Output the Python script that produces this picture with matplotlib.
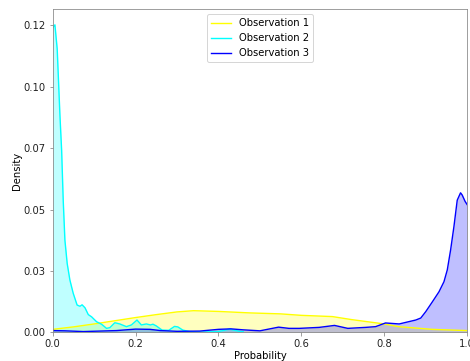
import matplotlib
matplotlib.use("Agg")
import matplotlib.pyplot as plt
import numpy as np
from matplotlib.ticker import FormatStrFormatter

# Observation 1 (yellow) - broad hump around 0.35
obs1_x = [0.00, 0.05, 0.10, 0.15, 0.20, 0.25, 0.30, 0.34, 0.40, 0.475,
          0.55, 0.60, 0.675, 0.72, 0.80, 0.835, 0.915, 1.00]
obs1_y = [0.0012, 0.0022, 0.0034, 0.0047, 0.0060, 0.0072, 0.0083, 0.0088, 0.0085, 0.0079,
          0.0075, 0.0069, 0.0064, 0.0052, 0.0034, 0.0023, 0.0012, 0.0007]

# Observation 2 (cyan) - sharp peak near zero
obs2_x = [0.0, 0.0055, 0.011, 0.0176, 0.0217, 0.0255, 0.0296, 0.0351, 0.0416, 0.0496, 0.059,
          0.066, 0.071, 0.078, 0.082, 0.086, 0.094, 0.106, 0.118, 0.130, 0.138,
          0.150, 0.162, 0.178, 0.190, 0.2035, 0.214, 0.226, 0.236, 0.242, 0.250,
          0.264, 0.280, 0.294, 0.302, 0.314, 0.330, 0.360, 0.400, 0.427, 0.450, 0.460]
obs2_y = [0.1240, 0.1252, 0.1154, 0.0883, 0.0741, 0.0538, 0.0375, 0.0280, 0.0213, 0.0159, 0.0111,
          0.0106, 0.0112, 0.0100, 0.0086, 0.0072, 0.0063, 0.0043, 0.0033, 0.0016, 0.0019,
          0.0039, 0.0034, 0.0023, 0.0030, 0.0050, 0.0030, 0.0034, 0.0030, 0.0033, 0.0026,
          0.0009, 0.0008, 0.0024, 0.0022, 0.0009, 0.0003, 0.0001, 0.0003, 0.0013, 0.0004, 0.0002]

# Observation 3 (blue) - peak near one
obs3_x = [0.00, 0.03, 0.074, 0.154, 0.20, 0.235, 0.26, 0.30, 0.355, 0.40,
          0.43, 0.46, 0.50, 0.545, 0.57, 0.595, 0.643, 0.68, 0.712, 0.755,
          0.779, 0.803, 0.836, 0.876, 0.888, 0.90, 0.916, 0.932, 0.944, 0.952,
          0.960, 0.968, 0.976, 0.984, 0.988, 0.995, 1.00]
obs3_y = [0.0007, 0.0006, 0.0003, 0.0007, 0.0013, 0.0012, 0.0007, 0.0004, 0.0005, 0.0012,
          0.0014, 0.0010, 0.0006, 0.0021, 0.0016, 0.0016, 0.0020, 0.0028, 0.0016, 0.0020,
          0.0023, 0.0038, 0.0034, 0.0050, 0.0058, 0.0084, 0.0124, 0.0165, 0.0206, 0.0254,
          0.0335, 0.0430, 0.0538, 0.0568, 0.0559, 0.0533, 0.0520]

series = [
    ("Observation 1", obs1_x, obs1_y, "yellow"),
    ("Observation 2", obs2_x, obs2_y, "cyan"),
    ("Observation 3", obs3_x, obs3_y, "blue"),
]

fig = plt.figure(figsize=(470 / 72, 361 / 72), dpi=72)
ax = fig.add_axes([0.112, 0.0795, 0.882, 0.8945])

for label, xs, ys, color in series:
    ax.plot(xs, ys, color=color, linewidth=1.4, label=label)
    ax.fill_between(xs, ys, 0, color=color, alpha=0.25, linewidth=0)

ax.set_xlim(0, 1)
ax.set_ylim(0, 0.1315)
ax.set_yticks([0, 0.025, 0.05, 0.075, 0.1, 0.125])
ax.yaxis.set_major_formatter(FormatStrFormatter("%.2f"))
ax.set_xlabel("Probability", labelpad=2)
ax.set_ylabel("Density", labelpad=1)

for sp in ax.spines.values():
    sp.set_color("#888888")
ax.tick_params(colors="#888888", labelcolor="#222222")

ax.legend(loc="upper center")

fig.savefig("out.png", dpi=72)
